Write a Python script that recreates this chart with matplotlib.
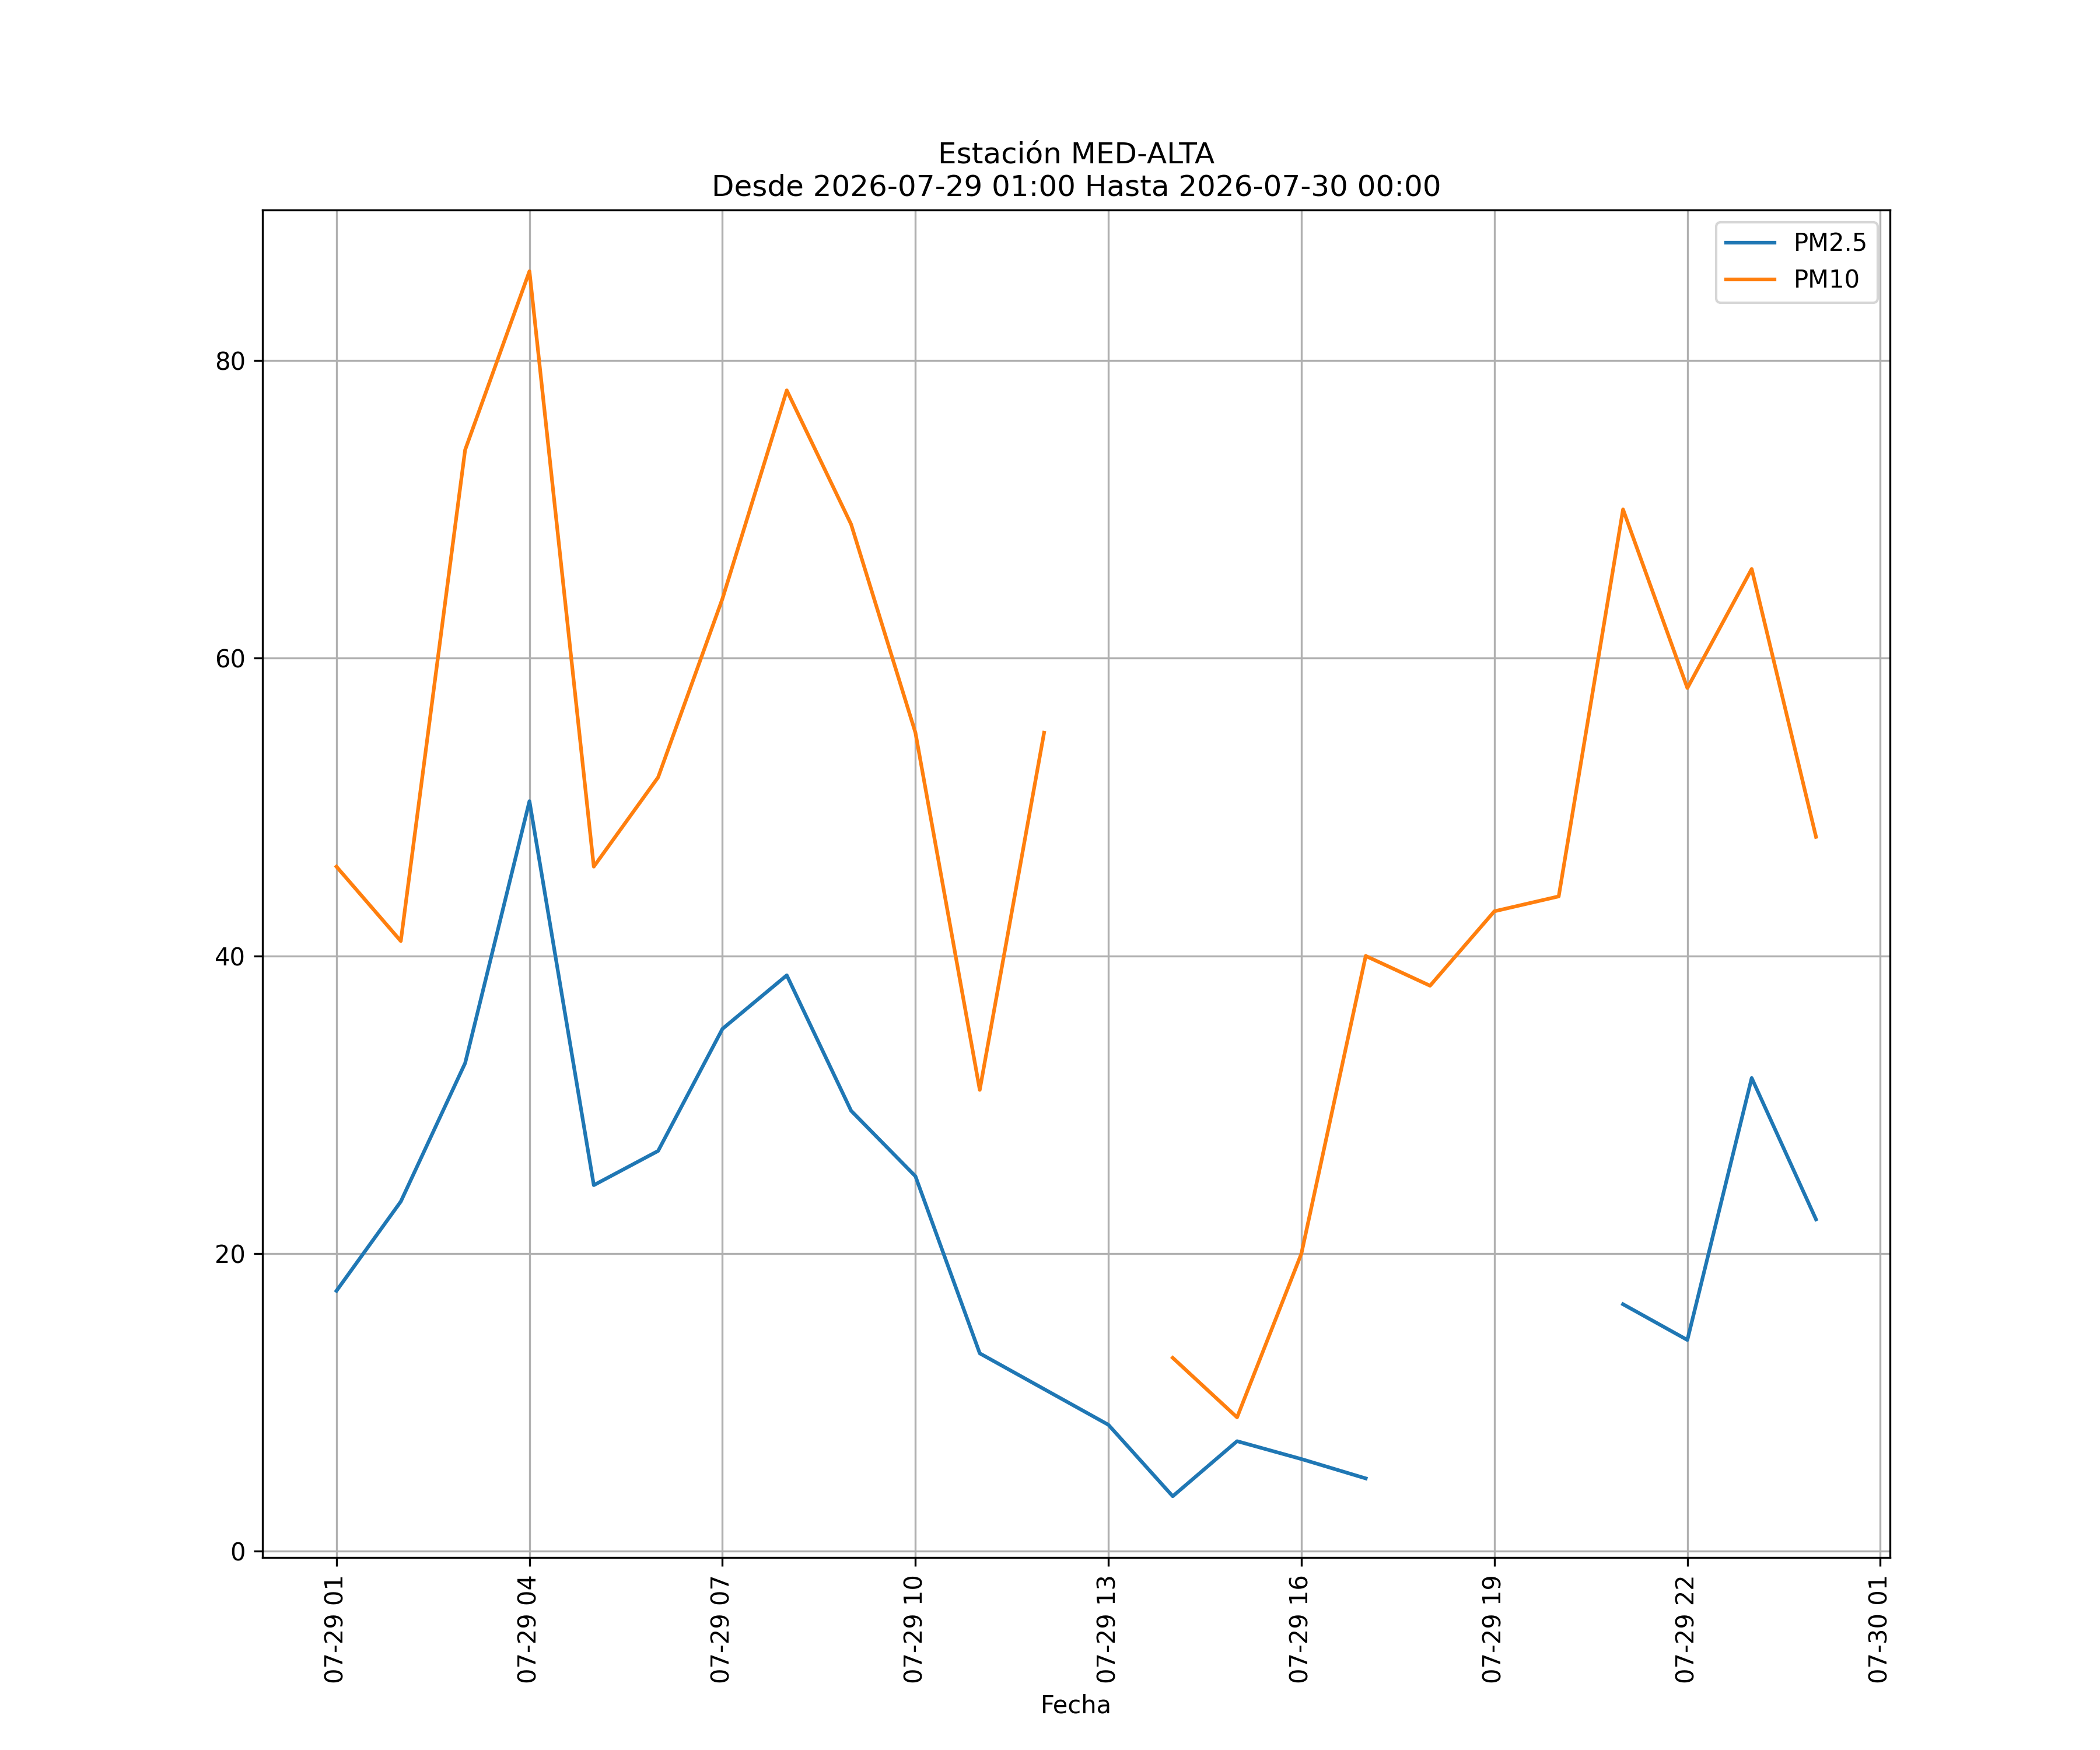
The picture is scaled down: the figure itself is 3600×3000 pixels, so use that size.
import numpy as np
import pandas as pd
import matplotlib
matplotlib.use('Agg')
from matplotlib import pyplot as plt
import matplotlib.dates as mdates

# Datos horarios (NaN = sin dato)
horas = pd.date_range('2026-07-29 01:00', '2026-07-30 00:00', freq='h')
pm25 = [17.5, 23.5, 32.8, 50.4, 24.6, 26.9, 35.1, 38.7, 29.6, 25.2, 13.3, 10.9,
        8.5, 3.7, 7.4, 6.2, 4.9, np.nan, np.nan, np.nan, 16.6, 14.2, 31.8, 22.3]
pm10 = [46, 41, 74, 86, 46, 52, 64, 78, 69, 55, 31, 55,
        np.nan, 13, 9, 20, 40, 38, 43, 44, 70, 58, 66, 48]

estacion = 'MED-ALTA'
desde = '2026-07-29 01:00'
hasta = '2026-07-30 00:00'

fig, ax = plt.subplots(figsize=(12, 10))
ax.plot(horas, pm25, label='PM2.5')
ax.plot(horas, pm10, label='PM10')

ax.xaxis.set_major_locator(mdates.HourLocator(byhour=range(1, 24, 3)))
ax.xaxis.set_major_formatter(mdates.DateFormatter('%m-%d %H'))
plt.setp(ax.get_xticklabels(), rotation=90)

ax.set_title(f'Estación {estacion}\nDesde {desde} Hasta {hasta}')
ax.set_xlabel('Fecha')
ax.grid(True)
ax.legend(loc='upper right')

fig.savefig('out.png', dpi=300)
